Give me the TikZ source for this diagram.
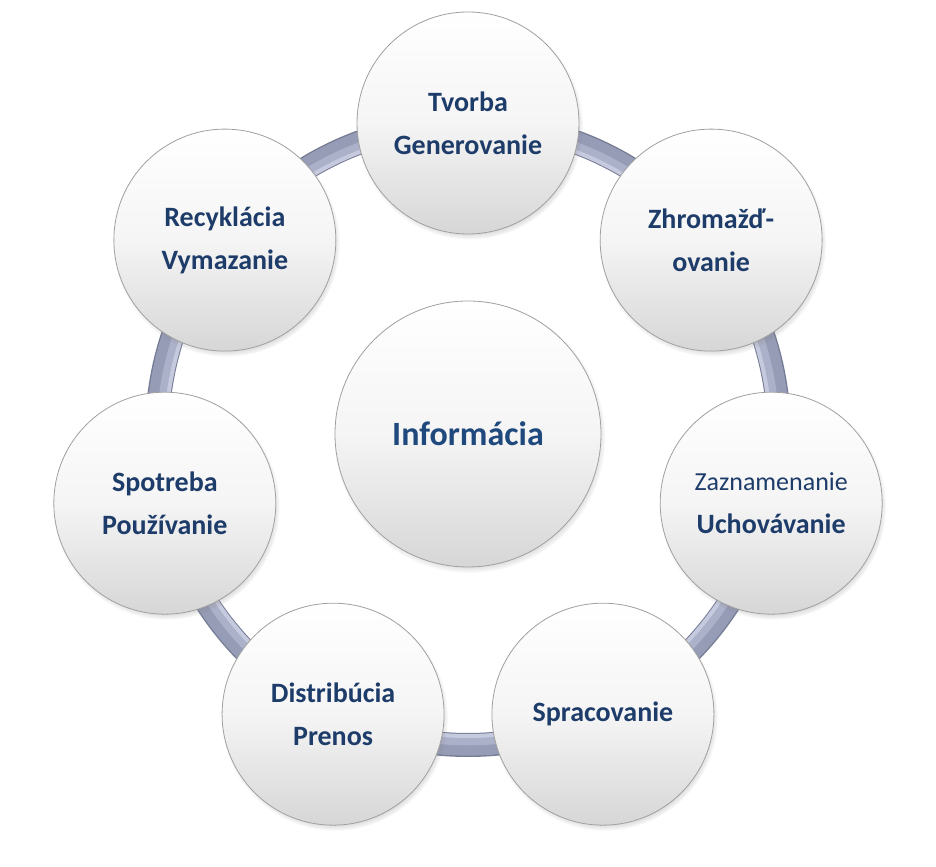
\documentclass[tikz,border=0pt]{standalone}
\usepackage{fontspec}
\setmainfont{Carlito}
\usetikzlibrary{shadows,calc}
\definecolor{txtblue}{RGB}{30,60,105}
\definecolor{infoblue}{RGB}{31,73,125}
\definecolor{ringedge}{RGB}{118,123,148}
\definecolor{ringmid}{RGB}{150,155,182}
\definecolor{ringinnerc}{RGB}{172,177,202}
\definecolor{ringlight}{RGB}{198,202,222}
\definecolor{rimgray}{RGB}{160,160,160}
\tikzset{
  bubble/.style={circle, inner sep=0pt, minimum size=166.5pt, align=center,
    shade, top color=white, bottom color=black!16, middle color=black!4,
    draw=rimgray, line width=0.6pt,
    circular drop shadow={shadow xshift=1.2pt, shadow yshift=-2.4pt, opacity=0.7, shadow scale=1.02},
    text=txtblue, font=\fontsize{21}{32.5}\selectfont\bfseries},
  bigbubble/.style={bubble, minimum size=199.5pt, text=infoblue,
    font=\fontsize{25.5}{30}\selectfont\bfseries},
  ringbase/.style={draw=ringedge, line width=18pt},
  ringband/.style={draw=ringmid, line width=15pt},
  ringin/.style={draw=ringinnerc, line width=8pt},
  ringhigh/.style={draw=ringlight, line width=3pt}
}
\begin{document}
\begin{tikzpicture}
\useasboundingbox[fill=white] (0,0) rectangle (702pt,650.25pt);
\coordinate (C) at (351pt,324.75pt);
% ring
\draw[ringbase] (C) circle[radius=233.25pt];
\draw[ringband] (C) circle[radius=233.75pt];
\draw[ringin] (C) circle[radius=229.5pt];
\draw[ringhigh] (C) circle[radius=226.5pt];
% outer bubbles
\node[bubble] (tvorba) at ($(C)+(90:233.25pt)$) {Tvorba\\Generovanie};
\node[bubble] (zhrom) at ($(C)+(90-360/7:233.25pt)$) {Zhromažď-\\ovanie};
\node[bubble] (zazn) at ($(C)+(90-2*360/7:233.25pt)$) {{\mdseries\fontsize{19.5}{32.5}\selectfont Zaznamenanie}\\Uchovávanie};
\node[bubble] (sprac) at ($(C)+(90-3*360/7:233.25pt)$) {Spracovanie};
\node[bubble] (distr) at ($(C)+(90-4*360/7:233.25pt)$) {Distribúcia\\Prenos};
\node[bubble] (spotr) at ($(C)+(90-5*360/7:233.25pt)$) {Spotreba\\Používanie};
\node[bubble] (recyk) at ($(C)+(90-6*360/7:233.25pt)$) {Recyklácia\\Vymazanie};
% centre
\node[bigbubble] (info) at (C) {Informácia};
\end{tikzpicture}
\end{document}
